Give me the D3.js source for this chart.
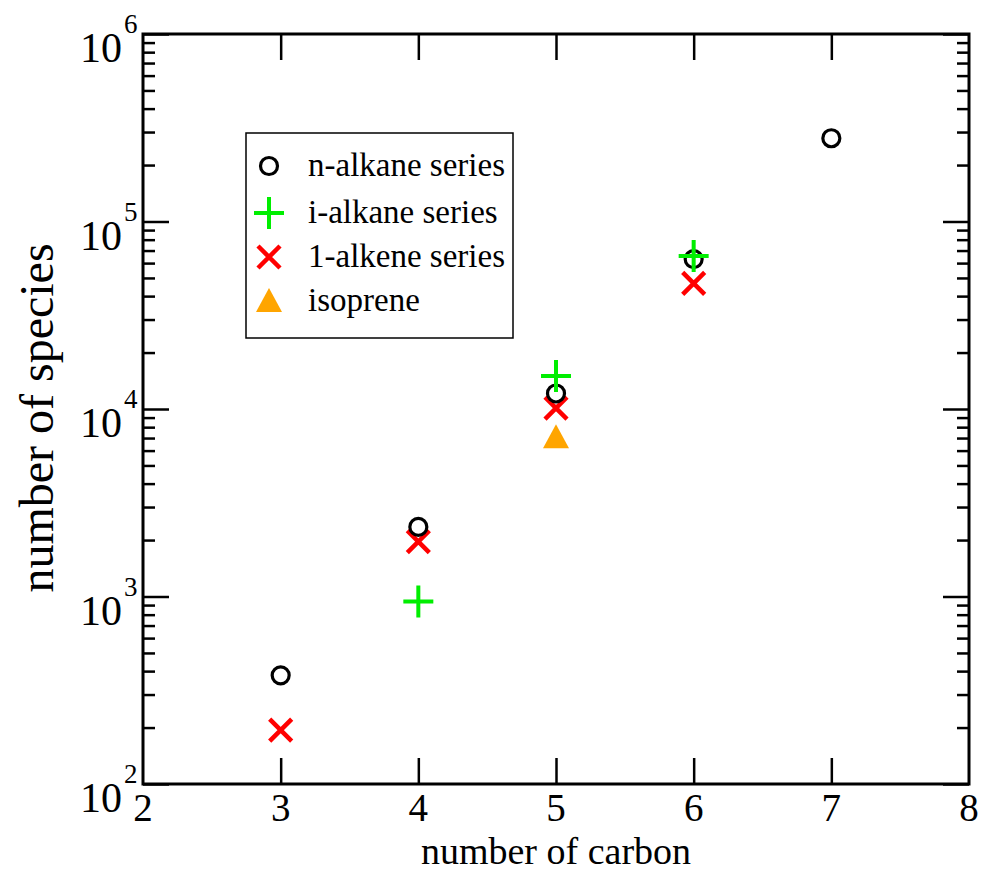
<!DOCTYPE html>
<html>
  <head>
    <meta charset="utf-8">
    <style type="text/css">
      body { margin: 0; background: #fff; }
      svg text { font-family: "Liberation Serif", "DejaVu Serif", serif; fill: #000; }
    </style>
  </head>
  <body>
    <script src="https://cdn.jsdelivr.net/npm/d3@7"></script>
    <script>

/*========== Data ==========*/
// number of carbon (x) and number of species (y) per series
const nAlkaneC = [3, 4, 5, 6, 7];
const nAlkaneN = [380, 2350, 12100, 63000, 278000];
const iAlkaneC = [4, 5, 6];
const iAlkaneN = [940, 15000, 65500];
const alkeneC = [3, 4, 5, 6];
const alkeneN = [194, 1960, 10100, 46800];
const isopreneC = [5];
const isopreneN = [7060];

const seriesNames = ['n-alkane series', 'i-alkane series', '1-alkene series', 'isoprene'];
const seriesShapes = ['circle', 'plus', 'cross', 'triangle'];
const seriesColors = ['#000000', '#00ee00', '#ff0000', '#ffa500'];

const xTicks = [2, 3, 4, 5, 6, 7, 8];
const yMajor = [1e2, 1e3, 1e4, 1e5, 1e6];

/*========== Zones ==========*/
const W = 982, H = 873;
const plot = {left: 143, right: 969, top: 34, bottom: 784};
const majorLen = 26, minorLen = 12;

const svg = d3.select('body').append('svg')
    .attr('width', W)
    .attr('height', H);

const x = d3.scaleLinear().domain([2, 8]).range([plot.left, plot.right]);
const y = d3.scaleLog().domain([1e2, 1e6]).range([plot.bottom, plot.top]);
const yMinor = y.ticks().filter(v => yMajor.indexOf(v) == -1);

/*========== Axes (ticks inward, mirrored) ==========*/
function tickAxis(axisFn, scale, values, len, tx, ty) {
  const g = svg.append('g')
      .attr('transform', `translate(${tx},${ty})`)
      .call(axisFn(scale).tickValues(values).tickSize(-len).tickFormat(''));
  g.select('.domain').remove();
  g.selectAll('.tick line').attr('stroke', '#000').attr('stroke-width', 2.5);
  return g;
}
const innerX = xTicks.slice(1, -1);
tickAxis(d3.axisBottom, x, innerX, majorLen, 0, plot.bottom);
tickAxis(d3.axisTop, x, innerX, majorLen, 0, plot.top);
tickAxis(d3.axisLeft, y, yMajor, majorLen, plot.left, 0);
tickAxis(d3.axisLeft, y, yMinor, minorLen, plot.left, 0);
tickAxis(d3.axisRight, y, yMajor, majorLen, plot.right, 0);
tickAxis(d3.axisRight, y, yMinor, minorLen, plot.right, 0);

// frame
svg.append('rect')
    .attr('x', plot.left)
    .attr('y', plot.top)
    .attr('width', plot.right - plot.left)
    .attr('height', plot.bottom - plot.top)
    .attr('fill', 'none')
    .attr('stroke', '#000')
    .attr('stroke-width', 3);

// x tick labels
svg.append('g').selectAll('text')
    .data(xTicks)
    .enter().append('text')
    .attr('x', d => x(d))
    .attr('y', plot.bottom + 37)
    .attr('text-anchor', 'middle')
    .attr('font-size', 39)
    .text(d => d);

// y tick labels: 10 with exponent
svg.append('g').selectAll('text')
    .data(yMajor)
    .enter().append('text')
    .attr('x', 122)
    .attr('y', d => y(d) + 28)
    .attr('text-anchor', 'end')
    .attr('font-size', 42)
    .text('10');
svg.append('g').selectAll('text')
    .data(yMajor)
    .enter().append('text')
    .attr('x', 124)
    .attr('y', d => y(d) - 1)
    .attr('font-size', 27)
    .text(d => Math.round(Math.log10(d)));

// axis titles
svg.append('text')
    .attr('x', 556)
    .attr('y', 864)
    .attr('text-anchor', 'middle')
    .attr('font-size', 38)
    .text('number of carbon');

svg.append('text')
    .attr('transform', `translate(53, 418) rotate(-90)`)
    .attr('text-anchor', 'middle')
    .attr('font-size', 48)
    .text('number of species');

/*========== Markers ==========*/
function markerPath(shape) {
  if (shape == 'circle') return d3.arc()({innerRadius: 0, outerRadius: 8.5, startAngle: 0, endAngle: 2 * Math.PI});
  if (shape == 'plus') return 'M-15,0H15M0,-16V16';
  if (shape == 'cross') return 'M-11,-11L11,11M-11,11L11,-11';
  if (shape == 'triangle') return 'M0,-13L13,11H-13Z';
}
function styleMarker(sel, i) {
  const shape = seriesShapes[i];
  if (shape == 'triangle') {
    sel.attr('fill', seriesColors[i]).attr('stroke', 'none');
  } else {
    sel.attr('fill', 'none')
       .attr('stroke', seriesColors[i])
       .attr('stroke-width', shape == 'circle' ? 3.2 : (shape == 'plus' ? 4 : 4.5));
  }
}

const allC = [nAlkaneC, iAlkaneC, alkeneC, isopreneC];
const allN = [nAlkaneN, iAlkaneN, alkeneN, isopreneN];
// draw order: isoprene, alkene, n-alkane, i-alkane
[3, 2, 0, 1].forEach(function(i) {
  const pts = allC[i].map((c, k) => ({c: c, n: allN[i][k]}));
  svg.append('g').selectAll('path')
      .data(pts)
      .enter().append('path')
      .attr('d', markerPath(seriesShapes[i]))
      .attr('transform', d => `translate(${x(d.c)},${y(d.n)})`)
      .call(styleMarker, i);
});

/*========== Legend ==========*/
const legend = svg.append('g');
legend.append('rect')
    .attr('x', 246)
    .attr('y', 133)
    .attr('width', 267)
    .attr('height', 205)
    .attr('fill', '#fff')
    .attr('stroke', '#000')
    .attr('stroke-width', 1.5);
const rowY = [166, 213, 257, 301];
for (let j = 0; j < seriesNames.length; j++) {
  legend.append('path')
      .attr('d', markerPath(seriesShapes[j]))
      .attr('transform', `translate(269,${rowY[j]})`)
      .call(styleMarker, j);
  legend.append('text')
      .attr('x', 308)
      .attr('y', rowY[j] + 10)
      .attr('font-size', 33)
      .text(seriesNames[j]);
}

    </script>
  </body>
</html>
